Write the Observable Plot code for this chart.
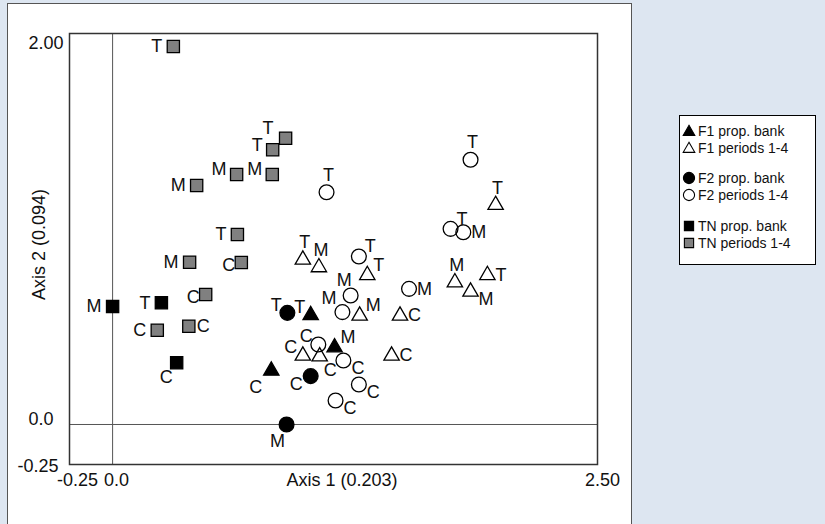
<!DOCTYPE html>
<html><head><meta charset="utf-8">
<script src="https://cdn.jsdelivr.net/npm/d3@7"></script>
<script src="https://cdn.jsdelivr.net/npm/@observablehq/plot@0.6"></script>
<style>
html,body{margin:0;padding:0;width:825px;height:524px;overflow:hidden;background:#dde6f1;font-family:"Liberation Sans",Arial,sans-serif;}
#panel{position:absolute;left:7px;top:3px;width:623px;height:540px;background:#fff;border:1px solid #555;}
#chart{position:absolute;left:0;top:0;}
#legend{position:absolute;left:679px;top:115px;width:137px;height:150px;background:#fff;border:1px solid #000;box-sizing:border-box;}
#legend svg{position:absolute;left:-1px;top:-1px;}
</style></head><body>
<div id="panel"></div>
<div id="chart"></div>
<div id="legend"></div>
<script>
// ---- data ----
const seriesNames = ["F1 prop. bank","F1 periods 1-4","F2 prop. bank","F2 periods 1-4","TN prop. bank","TN periods 1-4"];

const f1BankLabels = ["T","M","C"];
const f1BankAxis1  = [1.011, 1.133, 0.810];
const f1BankAxis2  = [0.574, 0.405, 0.282];
const f1BankPlace  = ["NW","NE","SWf"];

const f1PerLabels = ["T","M","T","T","T","M","M","M","C","C","C","C"];
const f1PerAxis1  = [0.971, 1.053, 1.300, 1.955, 1.913, 1.261, 1.747, 1.827, 1.467, 1.424, 0.971, 1.057];
const f1PerAxis2  = [0.865, 0.825, 0.784, 1.152, 0.784, 0.571, 0.746, 0.697, 0.571, 0.361, 0.361, 0.357];
const f1PerPlace  = ["N","N","NE","N","E","NE","N","SE","E","E","NW","SSE"];

const f2BankLabels = ["T","C","M"];
const f2BankAxis1  = [0.892, 1.011, 0.888];
const f2BankAxis2  = [0.586, 0.254, 0.000];
const f2BankPlace  = ["NW","SW","S"];

const f2PerLabels = ["T","T","T","M","T","M","M","M","C","C","C","C"];
const f2PerAxis1  = [1.092, 1.827, 1.725, 1.790, 1.257, 1.215, 1.173, 1.513, 1.050, 1.178, 1.257, 1.138];
const f2PerAxis2  = [1.219, 1.390, 1.027, 1.009, 0.882, 0.677, 0.590, 0.712, 0.420, 0.336, 0.210, 0.126];
const f2PerPlace  = ["N","N","NE","E","NE","NNW","NWu","E","NW","SE","SE","SE"];

const tnBankLabels = ["M","T","C"];
const tnBankAxis1  = [0.000, 0.249, 0.327];
const tnBankAxis2  = [0.619, 0.639, 0.324];
const tnBankPlace  = ["W","W","SSW"];

const tnPerLabels = ["T","T","T","M","M","M","T","M","C","C","C","C"];
const tnPerAxis1  = [0.310, 0.883, 0.817, 0.633, 0.815, 0.429, 0.637, 0.393, 0.657, 0.475, 0.228, 0.389];
const tnPerAxis2  = [1.984, 1.503, 1.442, 1.312, 1.312, 1.255, 0.997, 0.852, 0.850, 0.682, 0.495, 0.516];
const tnPerPlace  = ["W","NWf","Wu","Wu","Wu","W","W","W","Wc","Wc","W","E"];

const xTickValues = [-0.25, 0, 2.5];
const xTickLabels = ["-0.25", "0.0", "2.50"];
const yTickValues = [-0.25, 0, 2.0];
const yTickLabels = ["-0.25", "0.0", "2.00"];
const xTitle = "Axis 1 (0.203)";
const yTitle = "Axis 2 (0.094)";

// ---- assemble ----
const series = [
  {name: seriesNames[0], labels: f1BankLabels, a1: f1BankAxis1, a2: f1BankAxis2, place: f1BankPlace},
  {name: seriesNames[1], labels: f1PerLabels,  a1: f1PerAxis1,  a2: f1PerAxis2,  place: f1PerPlace},
  {name: seriesNames[2], labels: f2BankLabels, a1: f2BankAxis1, a2: f2BankAxis2, place: f2BankPlace},
  {name: seriesNames[3], labels: f2PerLabels,  a1: f2PerAxis1,  a2: f2PerAxis2,  place: f2PerPlace},
  {name: seriesNames[4], labels: tnBankLabels, a1: tnBankAxis1, a2: tnBankAxis2, place: tnBankPlace},
  {name: seriesNames[5], labels: tnPerLabels,  a1: tnPerAxis1,  a2: tnPerAxis2,  place: tnPerPlace}
];
const styles = {
  "F1 prop. bank":  {symbol: "triangle", fill: "#000", stroke: "#000", r: 5.7, lr: 4.3},
  "F1 periods 1-4": {symbol: "triangle", fill: "none", stroke: "#000", r: 5.7, lr: 4.3},
  "F2 prop. bank":  {symbol: "circle",   fill: "#000", stroke: "#000", r: 7.4, lr: 5.6},
  "F2 periods 1-4": {symbol: "circle",   fill: "none", stroke: "#000", r: 7.4, lr: 5.6},
  "TN prop. bank":  {symbol: "square",   fill: "#000", stroke: "#000", r: 6.9, lr: 5.2},
  "TN periods 1-4": {symbol: "square",   fill: "#808080", stroke: "#000", r: 6.9, lr: 5.2}
};
const placeOffsets = {
  W:   ["end",   -11,   0],
  Wu:  ["end",   -10,  -5],
  Wc:  ["end",    -6,   3],
  NWf: ["end",   -12, -10],
  NW:  ["end",  -5.5,  -8],
  NWu: ["end",    -6, -14],
  NNW: ["end",     1, -15],
  N:   ["middle",  2, -17],
  NE:  ["start",   6, -10],
  E:   ["start",   8,   0],
  SE:  ["start",   8,   8],
  SSE: ["start",   4,  14],
  SW:  ["end",    -8,   8],
  SWf: ["end",    -9,  16],
  SSW: ["end",    -4,  14],
  S:   ["middle", -9,  17]
};
const rows = series.flatMap(s => s.labels.map((t, i) => ({series: s.name, label: t, a1: s.a1[i], a2: s.a2[i], place: s.place[i]})));

const font = "'Liberation Sans', Arial, sans-serif";
const fs = 18;
const marks = [
  Plot.ruleX([0], {stroke: "#555", strokeWidth: 1}),
  Plot.ruleY([0], {stroke: "#555", strokeWidth: 1}),
  Plot.frame({stroke: "#333", strokeWidth: 1.5})
];
for (const s of series) {
  const st = styles[s.name];
  marks.push(Plot.dot(rows.filter(d => d.series === s.name), {
    x: "a1", y: "a2", symbol: () => st.symbol, r: st.r, fill: st.fill, stroke: st.stroke, strokeWidth: 1.3
  }));
}
for (const [code, [anchor, dx, dy]] of Object.entries(placeOffsets)) {
  const sub = rows.filter(d => d.place === code);
  if (!sub.length) continue;
  marks.push(Plot.text(sub, {x: "a1", y: "a2", text: "label", textAnchor: anchor, dx, dy, fontSize: fs, fill: "#111"}));
}
const xf = v => xTickLabels[xTickValues.indexOf(v)];
const yf = v => yTickLabels[yTickValues.indexOf(v)];
marks.push(
  Plot.axisX({ticks: [xTickValues[0]], tickFormat: xf, tickSize: 0, tickPadding: 9, dx: 14, fontSize: fs, label: null}),
  Plot.axisX({ticks: [xTickValues[1]], tickFormat: xf, tickSize: 0, tickPadding: 9, dx: 4, fontSize: fs, label: null}),
  Plot.axisX({ticks: [xTickValues[2]], tickFormat: xf, tickSize: 0, tickPadding: 9, dx: 0, fontSize: fs, label: null}),
  Plot.axisY({ticks: [yTickValues[2]], tickFormat: yf, tickSize: 0, tickPadding: 6, fontSize: fs, label: null}),
  Plot.axisY({ticks: [yTickValues[1]], tickFormat: yf, tickSize: 0, tickPadding: 6, dx: -10, dy: -5, fontSize: fs, label: null}),
  Plot.axisY({ticks: [yTickValues[0]], tickFormat: yf, tickSize: 0, tickPadding: 6, dx: -5, dy: -5.6, fontSize: fs, label: null}),
  Plot.text([xTitle], {frameAnchor: "bottom", textAnchor: "middle", lineAnchor: "middle", dx: 8.5, dy: 16, fontSize: fs, fill: "#111"}),
  Plot.text([yTitle], {frameAnchor: "left", textAnchor: "middle", lineAnchor: "middle", rotate: -90, dx: -30, dy: -4.5, fontSize: fs, fill: "#111"})
);

const chart = Plot.plot({
  width: 640, height: 524,
  marginLeft: 69, marginRight: 43, marginTop: 33, marginBottom: 60,
  x: {domain: [-0.22, 2.475]},
  y: {domain: [-0.21, 2.0525]},
  style: {background: "transparent", fontFamily: font, fontSize: fs + "px", color: "#111"},
  marks
});
document.getElementById("chart").appendChild(chart);

// ---- legend ----
const rowY = [16, 33, 63, 80, 111, 128];
const lsvg = d3.select("#legend").append("svg").attr("width", 137).attr("height", 150);
seriesNames.forEach((name, i) => {
  const st = styles[name];
  const sym = {triangle: d3.symbolTriangle, circle: d3.symbolCircle, square: d3.symbolSquare}[st.symbol];
  lsvg.append("path")
    .attr("d", d3.symbol(sym, Math.PI * st.lr * st.lr)())
    .attr("transform", `translate(10,${rowY[i] + (st.symbol === "triangle" ? 1 : 0)})`)
    .attr("fill", st.fill === "none" ? "#fff" : st.fill)
    .attr("stroke", st.stroke).attr("stroke-width", 1.1);
  lsvg.append("text").attr("x", 19).attr("y", rowY[i]).attr("dy", "0.35em")
    .attr("font-family", font).attr("font-size", 14).attr("fill", "#111").text(name);
});
</script>
</body></html>
